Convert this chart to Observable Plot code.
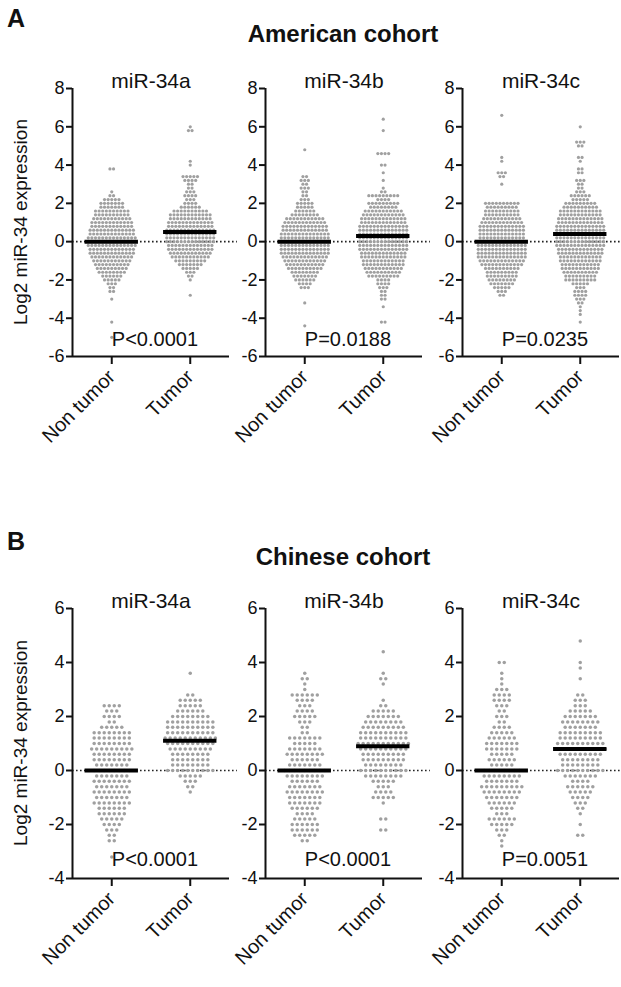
<!DOCTYPE html>
<html><head><meta charset="utf-8">
<script src="https://cdn.jsdelivr.net/npm/d3@7"></script>
<script src="https://cdn.jsdelivr.net/npm/@observablehq/plot@0.6"></script>
<style>
body{margin:0;background:#fff;font-family:Arial,"Liberation Sans",sans-serif;color:#111}
#root{position:relative;width:621px;height:987px;overflow:hidden;background:#fff}
.abs{position:absolute;line-height:1;white-space:nowrap}
.panel{position:absolute}
.panel svg{max-width:none !important}
</style></head><body><div id="root"></div>
<script>
// ---------- data ----------
const groups = ["Non tumor", "Tumor"];
const mirs = ["miR-34a", "miR-34b", "miR-34c"];
const cohorts = ["American cohort", "Chinese cohort"];
const panelLetters = ["A", "B"];
const yLabel = "Log2 miR-34 expression";
const pValuesAmerican = ["P<0.0001", "P=0.0188", "P=0.0235"];
const pValuesChinese = ["P<0.0001", "P<0.0001", "P=0.0051"];
const yTicksAmerican = [-6, -4, -2, 0, 2, 4, 6, 8];
const yTicksChinese = [-4, -2, 0, 2, 4, 6];
const binStep = 0.2; // values read in 0.2 rows

// American cohort: lowest row value and number of points per 0.2 row, upward
const am34aNonTumorLow = -5.0;
const am34aNonTumor = [1,0,0,0,1,0,0,0,0,0,1,0,2,2,3,5,6,8,9,10,11,12,13,13,14,14,14,13,13,12,12,11,10,10,7,7,5,2,1,0,0,0,0,0,2];
const am34aTumorLow = -2.8;
const am34aTumor = [1,0,0,0,1,2,3,5,7,9,11,12,13,13,14,14,14,14,13,13,12,12,10,6,4,3,4,3,2,2,4,5,0,0,1,1,0,0,0,0,0,0,0,2,1];
const am34bNonTumorLow = -4.4;
const am34bNonTumor = [1,0,0,0,0,0,1,0,0,0,3,4,6,7,8,10,11,12,13,14,14,14,14,14,14,13,13,12,11,8,6,5,5,3,2,2,3,2,3,2,0,0,0,0,0,0,1];
const am34bTumorLow = -4.2;
const am34bTumor = [2,0,0,0,1,0,2,2,2,3,4,4,9,10,11,12,12,13,13,14,14,14,14,14,14,14,13,13,12,11,8,9,4,9,2,1,0,1,0,1,0,2,0,0,4,0,0,0,0,0,1,0,0,1];
const am34cNonTumorLow = -2.8;
const am34cNonTumor = [2,3,5,7,8,9,9,10,12,13,14,14,14,14,14,13,13,13,13,12,11,10,10,9,10,0,0,0,0,1,0,2,3,0,0,1,1,0,0,0,0,0,0,0,0,0,0,1];
const am34cTumorLow = -4.2;
const am34cTumor = [1,0,1,1,1,2,3,4,4,3,5,9,9,10,11,11,12,12,13,13,14,14,14,14,14,14,13,13,12,12,10,9,5,6,3,2,2,3,0,2,2,0,1,2,0,0,2,3,0,0,0,1];
const americanMedians = [[0, 0.5], [0, 0.3], [0, 0.4]];

// Chinese cohort
const cn34aNonTumorLow = -3.2;
const cn34aNonTumor = [1,0,0,2,2,3,4,5,6,6,8,7,8,7,8,7,8,7,8,8,9,8,8,8,5,2,4,3,4];
const cn34aTumorLow = -0.8;
const cn34aTumor = [1,2,3,5,10,8,8,8,9,10,11,10,10,10,8,6,5,5,2,0,0,0,1];
const cn34bNonTumorLow = -2.6;
const cn34bNonTumor = [2,5,6,6,5,4,6,7,7,8,7,6,8,9,7,6,8,7,5,7,2,2,3,5,4,3,4,6,1,1,2,1];
const cn34bTumorLow = -2.2;
const cn34bTumor = [2,0,2,0,0,1,5,4,3,5,8,10,8,9,9,10,11,10,10,9,8,7,5,2,1,0,0,1,2,1,0,0,0,1];
const cn34cNonTumorLow = -2.8;
const cn34cNonTumor = [1,1,2,3,5,6,3,5,6,7,8,9,7,8,8,5,6,5,7,7,6,5,4,2,3,2,3,4,4,3,1,1,1,0,2];
const cn34cTumorLow = -2.4;
const cn34cTumor = [2,0,1,0,1,2,3,4,5,6,4,7,10,8,8,9,11,10,9,9,7,8,7,5,3,3,2,0,0,1,0,1,1,0,0,0,1];
const chineseMedians = [[0, 1.1], [0, 0.9], [0, 0.8]];

// ---------- build point tables (rows spread side by side, Prism-style) ----------
function expand(low, counts, gi, spread) {
  const pts = [];
  counts.forEach((n, i) => {
    const v = +(low + i * binStep).toFixed(2);
    for (let k = 0; k < n; k++) pts.push({group: groups[gi], gx: gi + (k - (n - 1) / 2) * spread, value: v});
  });
  return pts;
}
const americanSets = [
  [[am34aNonTumorLow, am34aNonTumor], [am34aTumorLow, am34aTumor]],
  [[am34bNonTumorLow, am34bNonTumor], [am34bTumorLow, am34bTumor]],
  [[am34cNonTumorLow, am34cNonTumor], [am34cTumorLow, am34cTumor]]
];
const chineseSets = [
  [[cn34aNonTumorLow, cn34aNonTumor], [cn34aTumorLow, cn34aTumor]],
  [[cn34bNonTumorLow, cn34bNonTumor], [cn34bTumorLow, cn34bTumor]],
  [[cn34cNonTumorLow, cn34cNonTumor], [cn34cTumorLow, cn34cTumor]]
];

const FONT = "Arial, 'Liberation Sans', sans-serif";
const root = document.getElementById("root");
const axisLefts = [72, 265, 462];
const ML = 44, MR = 10, FRAME_W = 157;

function panel(cfg) {
  const pts = cfg.sets.flatMap(([low, counts], gi) => expand(low, counts, gi, cfg.spread));
  const meds = cfg.medians.map((m, gi) => ({gi, median: m}));
  const [y0, y1] = cfg.yDomain;
  return Plot.plot({
    width: ML + FRAME_W + MR,
    height: cfg.marginTop + cfg.frameH + cfg.marginBottom,
    marginLeft: ML, marginRight: MR, marginTop: cfg.marginTop, marginBottom: cfg.marginBottom,
    x: {domain: [-0.5, 1.5]},
    y: {domain: cfg.yDomain},
    style: {fontFamily: FONT, color: "#111", background: "transparent", overflow: "visible", maxWidth: "none"},
    marks: [
      Plot.ruleY([0], {x1: -0.5, x2: 1.6, stroke: "#222", strokeWidth: 1.6, strokeDasharray: "1.6,2.4"}),
      Plot.dot(pts, {x: "gx", y: "value", r: cfg.r, fill: "#a0a0a0", stroke: "none"}),
      Plot.ruleY(meds, {y: "median", x1: d => d.gi - 0.34, x2: d => d.gi + 0.34, stroke: "#000", strokeWidth: 4}),
      Plot.ruleX([-0.5], {y1: y0, y2: y1, stroke: "#111", strokeWidth: 2}),
      Plot.ruleY([y0], {x1: -0.5, x2: 1.5, stroke: "#111", strokeWidth: 2}),
      Plot.axisY({ticks: cfg.yTicks, tickSize: 6, tickPadding: 2, fontSize: 18, strokeWidth: 2, tickFormat: d => String(d), label: null}),
      Plot.axisX({ticks: [0, 1], tickFormat: i => groups[i], tickRotate: -45, tickSize: 8, tickPadding: 9, fontSize: 20, strokeWidth: 2, label: null}),
      Plot.text([cfg.title], {frameAnchor: "top", dy: -15, fontSize: 21, fill: "#111"}),
      Plot.text([cfg.pText], {x: 0.55, y: cfg.pY, fontSize: 20, fill: "#111"})
    ]
  });
}

function addText(txt, css) {
  const d = document.createElement("div");
  d.className = "abs";
  d.textContent = txt;
  Object.assign(d.style, css);
  root.appendChild(d);
  return d;
}

const cohortCfg = [
  {sets: americanSets, medians: americanMedians, yDomain: [-6, 8], yTicks: yTicksAmerican, pTexts: pValuesAmerican, pY: -5.1,
   svgTop: 55, marginTop: 33, frameH: 268, marginBottom: 115, spread: 0.046, r: 1.6,
   letterTop: 6, titleTop: 22, labelCenter: 222},
  {sets: chineseSets, medians: chineseMedians, yDomain: [-4, 6], yTicks: yTicksChinese, pTexts: pValuesChinese, pY: -3.3,
   svgTop: 575, marginTop: 33, frameH: 270, marginBottom: 108, spread: 0.064, r: 1.75,
   letterTop: 529, titleTop: 545, labelCenter: 743}
];

cohortCfg.forEach((c, ci) => {
  addText(panelLetters[ci], {left: "7px", top: c.letterTop + "px", fontSize: "25px", fontWeight: "bold"});
  addText(cohorts[ci], {left: "343px", top: c.titleTop + "px", fontSize: "24px", fontWeight: "bold", transform: "translateX(-50%)"});
  addText(yLabel, {left: "20px", top: c.labelCenter + "px", fontSize: "19px", transform: "translate(-50%,-50%) rotate(-90deg)"});
  mirs.forEach((m, mi) => {
    const svg = panel({
      title: m, sets: c.sets[mi], medians: c.medians[mi], yDomain: c.yDomain, yTicks: c.yTicks,
      pText: c.pTexts[mi], pY: c.pY, marginTop: c.marginTop, frameH: c.frameH, marginBottom: c.marginBottom,
      spread: c.spread, r: c.r
    });
    const wrap = document.createElement("div");
    wrap.className = "panel";
    wrap.style.left = (axisLefts[mi] - ML) + "px";
    wrap.style.top = c.svgTop + "px";
    wrap.style.width = (ML + FRAME_W + MR) + "px";
    wrap.appendChild(svg);
    root.appendChild(wrap);
  });
});
</script></body></html>
